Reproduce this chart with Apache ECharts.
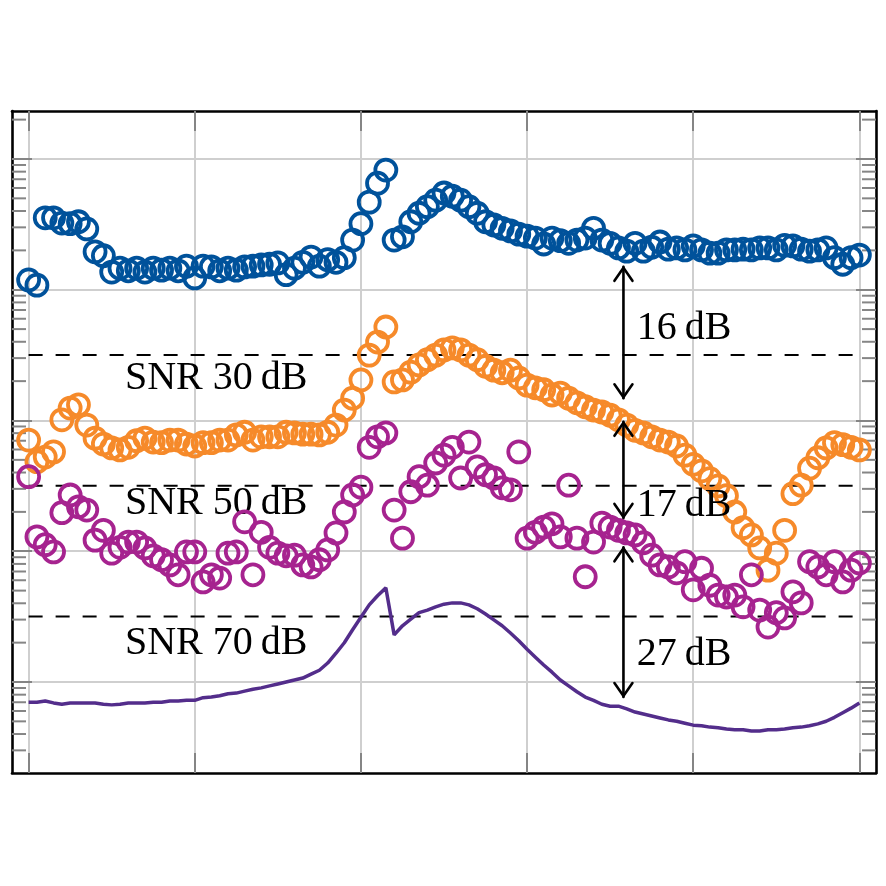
<!DOCTYPE html>
<html>
<head>
<meta charset="utf-8">
<script src="https://cdn.jsdelivr.net/npm/echarts@6/dist/echarts.min.js"></script>
<style>
  html, body { margin: 0; padding: 0; background: #fff; }
  #chart { width: 886px; height: 886px; }
</style>
</head>
<body>
<div id="chart"></div>
<script>
// sample positions: 101 evenly spaced points on 0..5
let step = 0.05

// y values in dB (20 dB per decade)
let blue = [61.5, 60.7, 71.0, 71.0, 70.2, 70.1, 70.4, 69.3, 65.8, 65.2,
  62.7, 63.3, 62.9, 63.3, 62.7, 63.3, 63.0, 63.3, 62.9, 63.6,
  61.8, 63.6, 63.5, 62.9, 63.3, 63.0, 63.5, 63.6, 63.8, 63.9,
  64.1, 62.3, 63.3, 64.2, 65.0, 63.6, 64.6, 64.2, 64.9, 67.6,
  70.1, 73.4, 76.3, 78.3, 67.6, 68.1, 70.4, 71.7, 72.7, 73.7,
  74.8, 74.3, 73.7, 72.7, 71.7, 70.4, 69.9, 69.4, 69.0, 68.5,
  68.2, 67.9, 67.0, 67.9, 67.5, 67.1, 67.6, 67.9, 69.4, 67.6,
  67.1, 66.4, 65.9, 67.1, 65.9, 66.5, 67.3, 66.2, 66.4, 66.1,
  66.7, 66.1, 65.6, 65.6, 66.1, 66.1, 66.2, 66.1, 66.4, 66.4,
  66.1, 66.8, 66.7, 66.2, 65.9, 66.1, 66.4, 64.9, 63.9, 64.9, 65.3]

let orange = [37.0, 33.7, 34.4, 35.2, 40.1, 41.9, 42.4, 39.3, 37.3, 36.4,
  35.8, 35.5, 35.9, 36.9, 37.3, 36.7, 36.6, 37.0, 37.0, 36.4,
  36.1, 36.6, 36.6, 37.0, 37.0, 37.8, 38.2, 37.0, 37.5, 37.5,
  37.5, 38.2, 38.1, 37.9, 37.9, 37.8, 38.2, 39.3, 41.6, 43.4,
  46.2, 50.0, 52.0, 54.3, 45.9, 46.2, 47.4, 48.5, 49.3, 50.0,
  50.8, 51.1, 50.8, 50.0, 49.3, 48.3, 47.7, 47.3, 47.7, 46.5,
  45.4, 45.0, 44.7, 43.9, 44.2, 43.4, 42.7, 42.1, 41.6, 41.3,
  40.8, 40.1, 39.3, 38.5, 38.1, 37.5, 37.0, 36.7, 36.1, 34.7,
  33.3, 32.3, 31.1, 30.0, 28.5, 26.0, 23.6, 22.5, 20.5, 17.1,
  19.7, 23.2, 28.8, 30.1, 32.7, 34.3, 35.8, 36.6, 36.3, 35.9, 35.5]

let magenta = [31.4, 22.2, 21.0, 19.9, 25.9, 28.6, 26.8, 26.3, 21.7, 23.2,
  19.7, 20.6, 21.4, 21.4, 20.5, 19.3, 18.7, 17.9, 16.4, 19.9,
  19.9, 15.3, 16.4, 15.9, 19.7, 19.9, 24.5, 16.4, 22.9, 20.6,
  19.7, 19.3, 19.4, 17.9, 17.6, 18.7, 20.2, 22.8, 26.0, 28.6,
  29.8, 35.9, 37.5, 38.1, 26.3, 22.0, 29.1, 31.4, 30.1, 33.5,
  34.7, 35.9, 31.2, 36.7, 32.9, 31.7, 31.2, 29.7, 29.4, 35.2,
  22.0, 22.9, 23.7, 24.2, 22.2, 30.1, 22.0, 16.1, 21.4, 24.3,
  23.7, 23.2, 22.8, 22.5, 21.3, 19.4, 17.9, 17.6, 16.7, 18.4,
  14.1, 17.4, 14.8, 13.3, 13.0, 13.3, 11.5, 16.4, 11.0, 8.4,
  10.6, 9.8, 13.8, 12.1, 18.4, 17.6, 16.4, 18.4, 15.3, 17.1, 18.2]

let purple = [-3.1, -3.1, -2.9, -3.2, -3.4, -3.2, -3.2, -3.2, -3.2, -3.4,
  -3.5, -3.4, -3.2, -3.2, -3.2, -3.1, -3.1, -2.9, -2.9, -2.8,
  -2.8, -2.4, -2.3, -2.1, -1.8, -1.7, -1.4, -1.1, -0.9, -0.6,
  -0.3, 0.0, 0.3, 0.6, 1.2, 1.8, 2.9, 4.4, 6.0, 8.0,
  9.9, 11.8, 13.2, 14.4, 7.2, 8.6, 9.6, 10.6, 11.0, 11.5,
  11.9, 12.1, 12.1, 11.8, 11.2, 10.4, 9.5, 8.6, 7.5, 6.3,
  5.0, 3.8, 2.6, 1.5, 0.3, -0.6, -1.5, -2.3, -2.8, -3.4,
  -3.7, -3.7, -4.1, -4.6, -4.9, -5.2, -5.5, -5.8, -6.0, -6.3,
  -6.6, -6.7, -6.9, -7.0, -7.2, -7.3, -7.3, -7.5, -7.5, -7.3,
  -7.3, -7.2, -7.0, -6.9, -6.7, -6.4, -6.0, -5.4, -4.7, -4.0, -3.2]

// SNR threshold lines (dB) and their labels
let snrLevels = [50, 30, 10]
let snrLabels = ['SNR 30\u2009dB', 'SNR 50\u2009dB', 'SNR 70\u2009dB']

// gap arrows: [x, yFrom, yTo] in data units
let arrows = [[3.58, 63.5, 43.4], [3.58, 39.8, 25.1], [3.58, 20.6, -2.3]]
let arrowLabels = ['16\u2009dB', '17\u2009dB', '27\u2009dB']

// major ticks
let xTicks = [0, 1, 2, 3, 4, 5]
let yTicks = [0, 20, 40, 60, 80]

let xMin = -0.1
let xMax = 5.1
let yMin = -13.92
let yMax = 87.34

// log style minor ticks, 20 dB per decade
let minorMults = [2, 3, 4, 5, 6, 7, 8, 9]
let minorTicks = []
for (let n = -1; n <= 4; n++) {
  minorMults.forEach(m => {
    let v = 20 * (n + Math.log10(m))
    if (v > yMin && v < yMax) minorTicks.push(v)
  })
}

function pairs(arr) {
  return arr.map((v, i) => [i * step, v])
}

let font = '"Liberation Serif", "Times New Roman", serif'
let tickColor = '#858585'
let gridColor = '#cfcfcf'

function scatter(name, data, color) {
  return {
    name: name,
    type: 'scatter',
    data: pairs(data),
    symbol: 'circle',
    symbolSize: 21,
    itemStyle: { color: 'rgba(0,0,0,0)', borderColor: color, borderWidth: 3.8, opacity: 1 },
    z: 3
  }
}

let chart = echarts.init(document.getElementById('chart'))

function axis(extra, ticks) {
  return Object.assign({
    type: 'value',
    axisLine: { show: true, onZero: false, lineStyle: { color: '#000', width: 2.6 } },
    axisTick: { show: true, inside: true, length: 20, customValues: ticks, lineStyle: { color: tickColor, width: 2 } },
    axisLabel: { show: false },
    splitLine: { show: false }
  }, extra)
}

let option = {
  animation: false,
  backgroundColor: '#fff',
  grid: { left: 12, top: 111, width: 864, height: 662, containLabel: false },
  xAxis: [
    axis({
      min: xMin, max: xMax, position: 'bottom',
      splitLine: { show: true, lineStyle: { color: gridColor, width: 2 } }
    }, xTicks),
    axis({ min: xMin, max: xMax, position: 'top' }, xTicks)
  ],
  yAxis: [
    axis({
      min: yMin, max: yMax, position: 'left',
      splitLine: { show: true, lineStyle: { color: gridColor, width: 2 } }
    }, yTicks),
    axis({ min: yMin, max: yMax, position: 'right' }, yTicks)
  ],
  series: [
    {
      type: 'custom',
      name: 'minor',
      data: minorTicks.map(v => [v]),
      silent: true,
      z: 1,
      renderItem: function(params, api) {
        let v = api.value(0)
        let l = api.coord([xMin, v])
        let r = api.coord([xMax, v])
        let st = { stroke: tickColor, lineWidth: 2 }
        return {
          type: 'group',
          children: [
            { type: 'line', shape: { x1: l[0], y1: l[1], x2: l[0] + 14, y2: l[1] }, style: st },
            { type: 'line', shape: { x1: r[0], y1: r[1], x2: r[0] - 14, y2: r[1] }, style: st }
          ]
        }
      }
    },
    {
      type: 'custom',
      name: 'snr',
      data: snrLevels.map(v => [v]),
      silent: true,
      z: 2,
      renderItem: function(params, api) {
        let v = api.value(0)
        let a = api.coord([0, v])
        let b = api.coord([5, v])
        return {
          type: 'line',
          shape: { x1: a[0], y1: a[1], x2: b[0], y2: b[1] },
          style: { stroke: '#000', lineWidth: 2, lineDash: [14, 13] }
        }
      }
    },
    scatter('Blue', blue, '#00529b'),
    scatter('Orange', orange, '#f68a2a'),
    scatter('Magenta', magenta, '#a6238f'),
    {
      name: 'Purple',
      type: 'line',
      data: pairs(purple),
      showSymbol: false,
      lineStyle: { color: '#532d8b', width: 3.5 },
      z: 3
    },
    {
      type: 'custom',
      name: 'arrows',
      data: arrows,
      silent: true,
      z: 4,
      renderItem: function(params, api) {
        let p1 = api.coord([api.value(0), api.value(1)])
        let p2 = api.coord([api.value(0), api.value(2)])
        let st = { stroke: '#000', lineWidth: 2.6, fill: null, lineCap: 'round' }
        return {
          type: 'group',
          children: [
            { type: 'line', shape: { x1: p1[0], y1: p1[1], x2: p2[0], y2: p2[1] }, style: st },
            { type: 'polyline', shape: { points: [[p1[0] - 9, p1[1] + 14], [p1[0], p1[1] + 1], [p1[0] + 9, p1[1] + 14]] }, style: st },
            { type: 'polyline', shape: { points: [[p2[0] - 9, p2[1] - 14], [p2[0], p2[1] - 1], [p2[0] + 9, p2[1] - 14]] }, style: st }
          ]
        }
      }
    }
  ]
}

chart.setOption(option)

// text annotations placed at data coordinates
let snrTextY = [46.4, 27.3, 5.9]
let arrowTextY = [54.0, 27.0, 4.2]
let graphics = []
snrLabels.forEach((t, i) => {
  let p = chart.convertToPixel({ gridIndex: 0 }, [0.58, snrTextY[i]])
  graphics.push({
    type: 'text', x: p[0], y: p[1], z: 2,
    style: { text: t, font: '40px ' + font, fill: '#000', verticalAlign: 'middle', align: 'left' }
  })
})
arrowLabels.forEach((t, i) => {
  let p = chart.convertToPixel({ gridIndex: 0 }, [3.66, arrowTextY[i]])
  graphics.push({
    type: 'text', x: p[0], y: p[1], z: 5,
    style: { text: t, font: '40px ' + font, fill: '#000', verticalAlign: 'middle', align: 'left' }
  })
})
chart.setOption({ graphic: graphics })
</script>
</body>
</html>
